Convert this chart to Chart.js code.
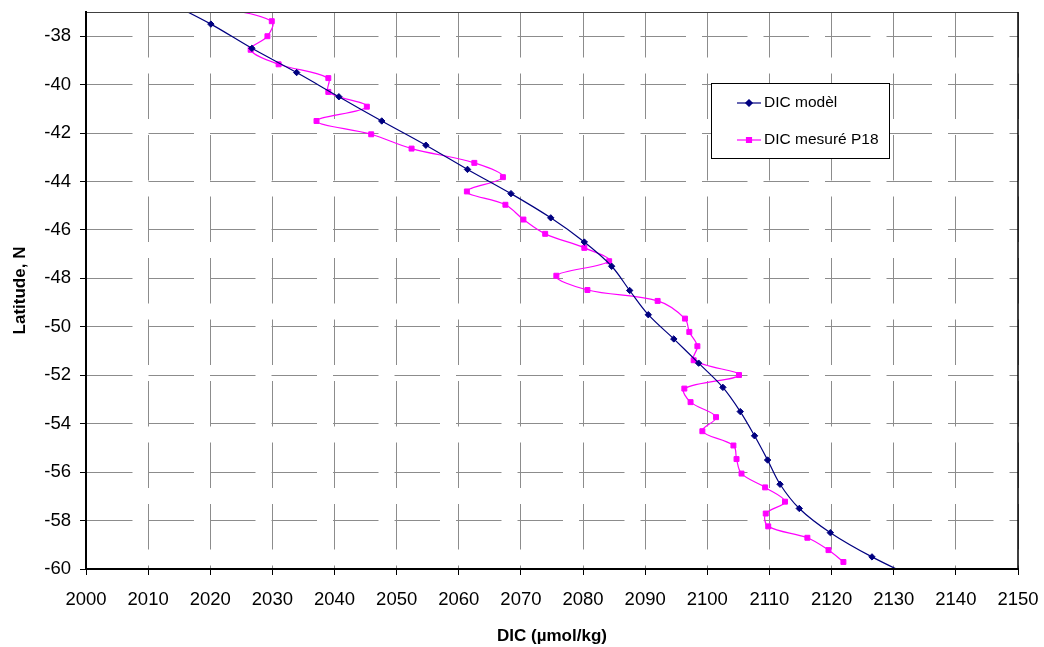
<!DOCTYPE html>
<html>
<head>
<meta charset="utf-8">
<script src="https://cdn.jsdelivr.net/npm/chart.js@4/dist/chart.umd.min.js"></script>
<style>
  body { margin: 0; background: #fff; }
  #wrap { width: 1044px; height: 647px; }
</style>
</head>
<body>
<div id="wrap"><canvas id="myChart" width="1044" height="647"></canvas></div>
<script>
// model: one value per degree of latitude (first and last are outside the plotted range)
const modelLat = [-36.5, -37.5, -38.5, -39.5, -40.5, -41.5, -42.5, -43.5, -44.5, -45.5, -46.5, -47.5, -48.5,
  -49.5, -50.5, -51.5, -52.5, -53.5, -54.5, -55.5, -56.5, -57.5, -58.5, -59.5, -60.5];
const modelDic = [2012.5, 2020.1, 2026.7, 2033.9, 2040.7, 2047.6, 2054.7, 2061.4, 2068.4, 2074.8, 2080.2, 2084.6, 2087.5,
  2090.5, 2094.6, 2098.6, 2102.5, 2105.3, 2107.6, 2109.7, 2111.7, 2114.8, 2119.8, 2126.5, 2134.5];

// measured along P18
const measLat = [-36.8, -37.38, -38.0, -38.56, -39.16, -39.73, -40.3, -40.91, -41.5, -42.05, -42.64, -43.23, -43.82,
  -44.41, -44.96, -45.57, -46.16, -46.74, -47.29, -47.89, -48.48, -48.93, -49.66, -50.21, -50.8, -51.38, -51.99,
  -52.55, -53.11, -53.73, -54.31, -54.9, -55.46, -56.06, -56.63, -57.22, -57.71, -58.24, -58.71, -59.22, -59.71];
const measDic = [2021.5, 2029.9, 2029.2, 2026.5, 2031.0, 2039.0, 2039.0, 2045.2, 2037.1, 2045.9, 2052.4, 2062.5, 2067.1,
  2061.3, 2067.5, 2070.4, 2073.9, 2080.2, 2084.2, 2075.7, 2080.7, 2092.0, 2096.4, 2097.1, 2098.4, 2097.8, 2105.1,
  2096.3, 2097.3, 2101.4, 2099.2, 2104.2, 2104.7, 2105.5, 2109.3, 2112.5, 2109.4, 2109.8, 2116.1, 2119.5, 2121.9];

const seriesNames = ["DIC modèl", "DIC mesuré P18"];
const xMin = 2000, xMax = 2150, xStep = 10;
const yMin = -60, yMax = -37, yStep = 2;

const toPoints = (xs, ys) => xs.map((v, i) => ({ x: v, y: ys[i] }));

// frame around the plot area (thick left/bottom like the original)
const framePlugin = {
  id: "frame",
  afterDatasetsDraw(chart) {
    const { ctx, chartArea: a } = chart;
    ctx.save();
    ctx.strokeStyle = "#404040";
    ctx.lineWidth = 1;
    ctx.beginPath();
    ctx.moveTo(a.left, a.top + 0.5);
    ctx.lineTo(a.right, a.top + 0.5);
    ctx.stroke();
    ctx.strokeStyle = "#000";
    ctx.lineWidth = 1.5;
    ctx.beginPath();
    ctx.moveTo(a.right, a.top);
    ctx.lineTo(a.right, a.bottom);
    ctx.stroke();
    ctx.lineWidth = 2;
    ctx.beginPath();
    ctx.moveTo(a.left, a.top);
    ctx.lineTo(a.left, a.bottom);
    ctx.lineTo(a.right, a.bottom);
    ctx.stroke();
    ctx.restore();
  },
};

// boxed legend inside the plot, like the spreadsheet one
const boxLegend = {
  id: "boxLegend",
  afterDraw(chart) {
    const { ctx } = chart;
    const bx = 711, by = 83, bw = 178, bh = 75;
    ctx.save();
    ctx.fillStyle = "#fff";
    ctx.fillRect(bx, by, bw, bh);
    ctx.strokeStyle = "#000";
    ctx.lineWidth = 1;
    ctx.strokeRect(bx + 0.5, by + 0.5, bw, bh);
    ctx.font = "15.5px 'Liberation Sans', Arial, sans-serif";
    ctx.textBaseline = "middle";
    chart.data.datasets.forEach((ds, i) => {
      const y = by + 20 + i * 37;
      ctx.strokeStyle = ds.borderColor;
      ctx.lineWidth = ds.borderWidth;
      ctx.beginPath();
      ctx.moveTo(bx + 26, y);
      ctx.lineTo(bx + 50, y);
      ctx.stroke();
      ctx.fillStyle = ds.pointBackgroundColor;
      Chart.helpers.drawPoint(ctx, { pointStyle: ds.pointStyle, radius: ds.pointRadius, borderWidth: 1 }, bx + 38, y);
      ctx.fill();
      ctx.fillStyle = "#000";
      ctx.fillText(ds.label, bx + 53, y);
    });
    ctx.restore();
  },
};

const tickFont = { family: "'Liberation Sans', Arial, sans-serif", size: 18.5 };
const titleFont = { family: "'Liberation Sans', Arial, sans-serif", size: 17, weight: "bold" };
const dash = [45.5, 16];

const ctx = document.getElementById("myChart");
const myChart = new Chart(ctx, {
  type: "scatter",
  data: {
    datasets: [
      {
        label: seriesNames[0],
        data: toPoints(modelDic, modelLat),
        showLine: true,
        borderColor: "#000080",
        backgroundColor: "#000080",
        pointBackgroundColor: "#000080",
        pointBorderColor: "#000080",
        borderWidth: 1.2,
        pointStyle: "rectRot",
        pointRadius: 3.2,
        pointBorderWidth: 1,
        tension: 0.35,
      },
      {
        label: seriesNames[1],
        data: toPoints(measDic, measLat),
        showLine: true,
        borderColor: "#ff00ff",
        backgroundColor: "#ff00ff",
        pointBackgroundColor: "#ff00ff",
        pointBorderColor: "#ff00ff",
        borderWidth: 1.2,
        pointStyle: "rect",
        pointRadius: 3.5,
        pointBorderWidth: 1,
        tension: 0.35,
      },
    ],
  },
  options: {
    responsive: false,
    animation: false,
    events: [],
    layout: { padding: { top: 12, right: 26, left: 0, bottom: 0 } },
    plugins: { legend: { display: false }, tooltip: { enabled: false } },
    scales: {
      x: {
        type: "linear",
        min: xMin,
        max: xMax,
        ticks: { stepSize: xStep, color: "#000", font: tickFont, padding: 14, maxRotation: 0, callback: (v) => String(v) },
        grid: { color: "#8c8c8c", lineWidth: 1, tickLength: 6, tickColor: "#000" },
        border: { display: true, color: "#000", width: 2, dash: dash },
        title: { display: true, text: "DIC (µmol/kg)", color: "#000", font: titleFont, padding: { top: 5, bottom: 0 } },
        afterFit(scale) {
          scale.height = 78;
          scale.paddingLeft = 0;
          scale.paddingRight = 0;
        },
      },
      y: {
        type: "linear",
        min: yMin,
        max: yMax,
        ticks: { stepSize: yStep, color: "#000", font: tickFont, padding: 9, callback: (v) => String(v) },
        grid: { color: "#8c8c8c", lineWidth: 1, tickLength: 6, tickColor: "#000" },
        border: { display: true, color: "#000", width: 2, dash: dash },
        title: { display: true, text: "Latitude, N", color: "#000", font: titleFont, padding: { top: 10, bottom: 0 } },
        afterBuildTicks(scale) { scale.ticks = scale.ticks.filter((t) => t.value % yStep === 0); },
        afterFit(scale) {
          scale.width = 86;
          scale.paddingTop = 0;
          scale.paddingBottom = 0;
        },
      },
    },
  },
  plugins: [framePlugin, boxLegend],
});
</script>
</body>
</html>
